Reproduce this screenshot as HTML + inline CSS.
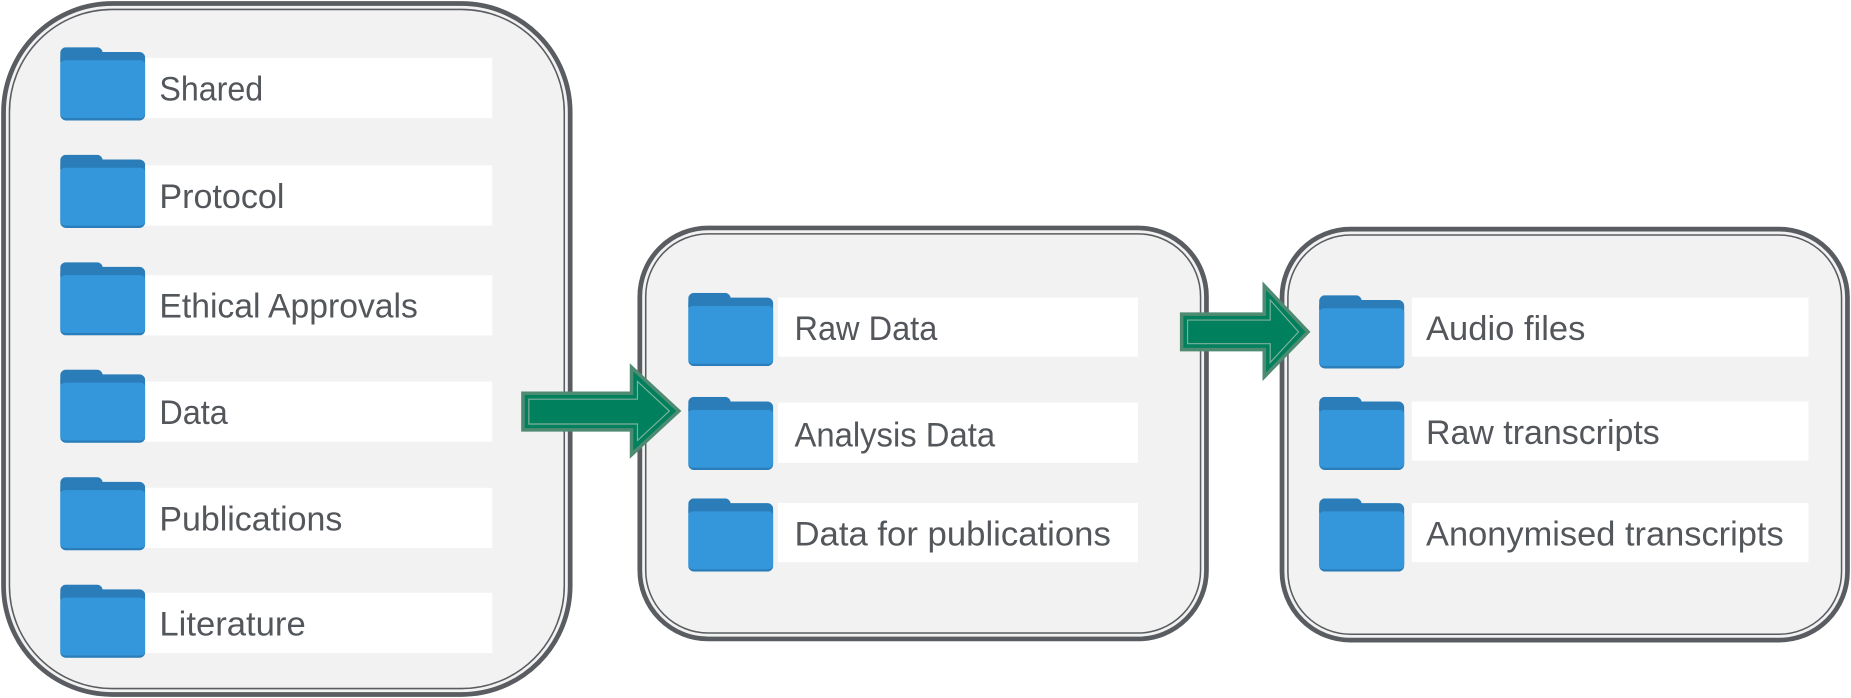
<!DOCTYPE html>
<html><head><meta charset="utf-8"><style>
html,body{margin:0;padding:0;background:#fff;}
svg{display:block;}
text{font-family:"Liberation Sans",sans-serif;font-size:29px;fill:#53565a;}
</style></head><body>
<svg width="1851" height="698" viewBox="0 0 1568 591" preserveAspectRatio="none" xmlns="http://www.w3.org/2000/svg">
<defs>
<symbol id="f" viewBox="0 0 72 62">
<rect x="0" y="0" width="36" height="16" rx="5" fill="#2a7db8"/>
<rect x="0" y="4" width="72" height="58" rx="5" fill="#2a7db8"/>
<rect x="0" y="11" width="72" height="49" rx="4" fill="#3497db"/>
</symbol>
</defs>
<g fill="#f2f2f2" stroke="#595c60">
<rect x="3" y="3" width="480" height="585" rx="92" stroke-width="4"/>
<rect x="8" y="8" width="470" height="575" rx="87" fill="none" stroke-width="1.3"/>
<rect x="542" y="193" width="480" height="348" rx="58" stroke-width="4"/>
<rect x="547" y="198" width="470" height="338" rx="53" fill="none" stroke-width="1.3"/>
<rect x="1086" y="194" width="479" height="348" rx="58" stroke-width="4"/>
<rect x="1091" y="199" width="469" height="338" rx="53" fill="none" stroke-width="1.3"/>
</g>
<g fill="#fff">
<rect x="122" y="49" width="295" height="51"/>
<rect x="122" y="140" width="295" height="51"/>
<rect x="122" y="233" width="295" height="51"/>
<rect x="122" y="323" width="295" height="51"/>
<rect x="122" y="413" width="295" height="51"/>
<rect x="122" y="502" width="295" height="51"/>
<rect x="659" y="252" width="305" height="50"/>
<rect x="659" y="341" width="305" height="51"/>
<rect x="659" y="426" width="305" height="50"/>
<rect x="1196" y="252" width="336" height="50"/>
<rect x="1196" y="340" width="336" height="50"/>
<rect x="1196" y="426" width="336" height="50"/>
</g>
<use href="#f" x="51" y="40" width="72" height="62"/>
<use href="#f" x="51" y="131" width="72" height="62"/>
<use href="#f" x="51" y="222" width="72" height="62"/>
<use href="#f" x="51" y="313" width="72" height="62"/>
<use href="#f" x="51" y="404" width="72" height="62"/>
<use href="#f" x="51" y="495" width="72" height="62"/>
<use href="#f" x="583" y="248" width="72" height="62"/>
<use href="#f" x="583" y="336" width="72" height="62"/>
<use href="#f" x="583" y="422" width="72" height="62"/>
<use href="#f" x="1117" y="250" width="73" height="62"/>
<use href="#f" x="1117" y="336" width="73" height="62"/>
<use href="#f" x="1117" y="422" width="73" height="62"/>
<text x="135" y="85" textLength="88" lengthAdjust="spacingAndGlyphs">Shared</text>
<text x="135" y="176" textLength="106" lengthAdjust="spacingAndGlyphs">Protocol</text>
<text x="135" y="269" textLength="219" lengthAdjust="spacingAndGlyphs">Ethical Approvals</text>
<text x="135" y="359" textLength="58" lengthAdjust="spacingAndGlyphs">Data</text>
<text x="135" y="449" textLength="155" lengthAdjust="spacingAndGlyphs">Publications</text>
<text x="135" y="538" textLength="124" lengthAdjust="spacingAndGlyphs">Literature</text>
<text x="673" y="288" textLength="121" lengthAdjust="spacingAndGlyphs">Raw Data</text>
<text x="673" y="378" textLength="170" lengthAdjust="spacingAndGlyphs">Analysis Data</text>
<text x="673" y="462" textLength="268" lengthAdjust="spacingAndGlyphs">Data for publications</text>
<text x="1208" y="288" textLength="135" lengthAdjust="spacingAndGlyphs">Audio files</text>
<text x="1208" y="376" textLength="198" lengthAdjust="spacingAndGlyphs">Raw transcripts</text>
<text x="1208" y="462" textLength="303" lengthAdjust="spacingAndGlyphs">Anonymised transcripts</text>
<g fill="#00805c" stroke="#4f8a72" stroke-width="3">
<path d="M443 333 L535 333 L535 311 L575 348 L535 385 L535 364 L443 364 Z"/>
<path d="M1001 266 L1071 266 L1071 242 L1108 281 L1071 319 L1071 296 L1001 296 Z"/>
</g>
<g fill="none" stroke="#7fb09c" stroke-width="1">
<path d="M448 338 L540 338 L540 323 L567 348 L540 373 L540 359 L448 359 Z"/>
<path d="M1006 271 L1076 271 L1076 254 L1100 281 L1076 307 L1076 291 L1006 291 Z"/>
</g>
</svg>
</body></html>
